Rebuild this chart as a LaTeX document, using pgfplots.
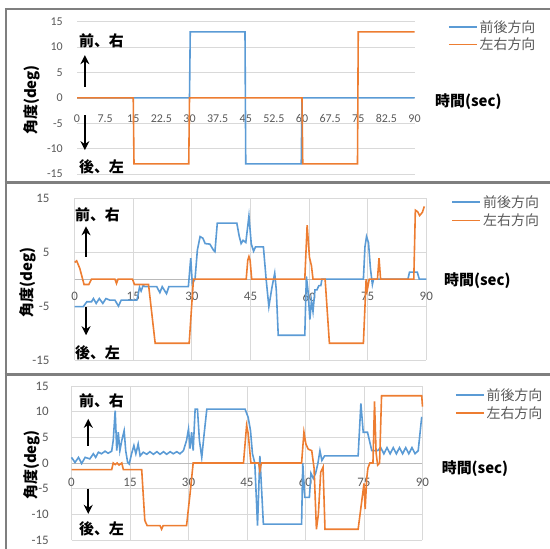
\documentclass[border=0pt]{standalone}
\usepackage{pgfplots}
\pgfplotsset{compat=1.18}
\usepackage{fontspec}
\setmainfont{Carlito}
\newfontfamily\cjk{Noto Sans CJK JP}
\usetikzlibrary{arrows.meta}
\definecolor{cblue}{HTML}{5B9BD5}
\definecolor{corange}{HTML}{ED7D31}
\definecolor{gridc}{HTML}{D9D9D9}
\definecolor{tickc}{HTML}{595959}
\definecolor{framec}{HTML}{7F7F7F}

\pgfplotsset{
  panel/.style={
    scale only axis,
    anchor=south west,
    xmin=0, xmax=90, ymin=-15, ymax=15,
    axis line style={draw=none},
    major tick length=0pt,
    tick style={draw=none},
    major grid style={draw=gridc, line width=0.8bp},
    ymajorgrids,
    extra y ticks={0}, extra y tick labels={},
    extra y tick style={grid=major, major grid style={draw=gray!55, line width=0.9bp}},
    clip=false,
    yticklabel style={anchor=east, inner sep=0pt, xshift=-14bp},
    legend style={draw=none, fill=none, inner sep=0pt, outer sep=0pt,
      font=\cjk\fontsize{14}{14}\selectfont, text=tickc,
      row sep=4bp, column sep=2bp,
      nodes={inner sep=0pt}},
    legend cell align=left,
    legend image code/.code={\draw[##1, line width=1.6bp] (0bp,0bp) -- (28bp,0bp);},
    every axis plot/.append style={line width=1.6bp, mark=none},
  },
}
\tikzset{arr/.style={draw=black, line width=2.2bp, arrows={-Stealth[length=9bp,width=9bp]}}}

\newcommand{\labs}[3]{%
  \node[font=\cjk\bfseries\fontsize{15}{15}\selectfont] at (#1bp,#2bp) {#3};}

\begin{document}
\begin{tikzpicture}
\path[use as bounding box] (0,0) rectangle (550bp,549bp);

% ---------------- Panel 1 ----------------
\begin{axis}[panel, at={(77bp,375bp)}, width=337.5bp, height=152.3bp,
  xtick={0,7.5,15,22.5,30,37.5,45,52.5,60,67.5,75,82.5,90},
  xticklabels={0,7.5,15,22.5,30,37.5,45,52.5,60,67.5,75,82.5,90},
  ytick={-15,-10,-5,0,5,10,15},
  yticklabels={-15,-10,-5,0,5,10,15},
  tick label style={font=\fontsize{12}{12}\selectfont, text=tickc},
  xticklabel style={anchor=center, yshift=55.7bp},
  legend style={at={(axis description cs:1.0993,1.008)}, anchor=north west},
]
\addplot[cblue] coordinates {(0,0)(30,0)(30.2,13)(44.8,13)(45,-13)(59.8,-13)(60,0)(90,0)};
\addplot[corange] coordinates {(0,0)(15,0)(15.2,-13)(29.8,-13)(30,0)(60,0)(60.2,-13)(74.8,-13)(75,13)(90,13)};
\legend{前後方向,左右方向}
\draw[arr] (axis cs:2.1,2.2) -- (axis cs:2.1,8.4);
\draw[arr] (axis cs:2.1,-3.4) -- (axis cs:2.1,-10.3);
\end{axis}

% ---------------- Panel 2 ----------------
\begin{axis}[panel, at={(74.7bp,189bp)}, width=351.6bp, height=161.7bp,
  xtick={0,15,30,45,60,75,90},
  xticklabels={0,15,30,45,60,75,90},
  xmajorgrids,
  ytick={-15,-5,5,15},
  yticklabels={-15,-5,5,15},
  tick label style={font=\fontsize{13}{13}\selectfont, text=tickc},
  xticklabel style={anchor=center, yshift=63.3bp},
  yticklabel style={xshift=-11bp},
  legend style={at={(axis description cs:1.072,1.017)}, anchor=north west, row sep=5bp},
]
\addplot[cblue] coordinates {
(0,-5.1)(2.2,-5.1)(3.1,-4.2)(4.3,-4.2)(4.8,-3.6)(5.5,-4.5)(6.3,-3.6)(7.2,-4.5)(8.0,-3.6)(9.0,-3.9)
(10.3,-3.9)(11.2,-5.0)(11.9,-3.9)(15.9,-3.9)(16.2,-3.0)(16.6,-1.5)(17.0,-2.2)(17.5,-1.2)(18.0,-1.4)
(21.0,-1.4)(21.8,-2.5)(22.4,-1.4)(23.5,-2.7)(24.1,-1.4)(29.1,-1.4)(29.7,3.9)(30.1,-0.8)(30.8,0)
(31.4,5.4)(32.1,7.9)(32.8,7.6)(33.4,6.6)(34.6,6.5)(35.5,5.4)(35.9,5.1)(36.5,10.4)(41.5,10.4)
(42.1,8.0)(42.6,6.6)(43.1,7.2)(43.8,6.8)(44.6,11.7)(45.2,6.5)(45.8,5.2)(46.3,6.0)(48.3,6.0)
(49.0,0)(49.7,-5.1)(50.5,-1.5)(51.2,1.1)(51.6,-2)(52.1,-10.4)(58.9,-10.4)(59.3,0.5)(59.7,-2)
(60.2,-7.5)(60.6,-4)(61.0,-6)(61.5,-2)(62.0,-2)(62.5,-1.2)(63.0,-1.2)(63.3,0)(73.9,0)(74.3,6)
(74.7,7.9)(75.2,6.8)(75.7,2)(76.2,-1)(76.5,0)(85.3,0)(85.7,1.3)(87.7,1.3)(88.2,0)(90,0)};
\addplot[corange] coordinates {
(0,3.1)(0.5,3.4)(1.3,2)(2.4,-1.0)(3.6,-1.0)(4.3,0)(10.3,0)(10.7,-0.8)(11.1,0)(14.8,0)(15.3,-1.0)
(18.9,-1.0)(20.6,-11.9)(29.3,-11.9)(30.4,0)(43.9,0)(44.3,3.5)(44.6,4.2)(44.9,3.5)(45.3,0)(58.9,0)
(59.5,10.0)(60.1,4.0)(60.6,2.5)(61.0,0)(64.1,0)(65.2,-11.9)(73.9,-11.9)(74.6,0)(74.9,-2)(75.4,0)
(77.5,0)(77.9,3.9)(78.3,0)(86.8,0)(87.2,12.8)(87.8,12.5)(88.3,11.8)(89.0,12.4)(89.5,13.5)};
\legend{前後方向,左右方向}
\draw[arr] (axis cs:2.9,4.2) -- (axis cs:2.9,9.8);
\draw[arr] (axis cs:2.9,-5.1) -- (axis cs:2.9,-10.4);
\end{axis}

% ---------------- Panel 3 ----------------
\begin{axis}[panel, at={(71.5bp,9bp)}, width=351bp, height=154bp,
  xtick={0,15,30,45,60,75,90},
  xticklabels={0,15,30,45,60,75,90},
  xmajorgrids,
  ytick={-15,-10,-5,0,5,10,15},
  yticklabels={-15,-10,-5,0,5,10,15},
  tick label style={font=\fontsize{13}{13}\selectfont, text=tickc},
  xticklabel style={anchor=center, yshift=57.7bp},
  yticklabel style={xshift=-8.5bp},
  legend style={at={(axis description cs:1.0926,0.983)}, anchor=north west, row sep=4.5bp},
]
\addplot[cblue] coordinates {
(0,1.1)(0.9,0.1)(1.8,1.1)(2.6,-0.1)(3.5,1.1)(4.7,0.8)(5.6,1.8)(6.2,1.1)(6.9,2.1)(7.7,1.8)(8.6,2.3)
(9.4,1.9)(10.3,2.3)(10.7,4.4)(11.2,10.2)(11.6,2.4)(12.0,6.0)(12.4,2.4)(12.9,4.4)(13.5,6.3)(13.9,2.4)
(14.4,0.1)(14.8,-0.2)(15.4,1.8)(16.0,3.4)(16.5,1.8)(17.1,3.7)(17.6,1.4)(18.4,2.1)(19.3,1.7)(20.1,2.2)
(21.0,1.7)(21.9,2.2)(22.7,1.7)(23.6,2.2)(24.4,1.7)(25.3,2.2)(26.1,1.8)(27.0,2.2)(27.8,1.8)(28.7,2.4)
(29.5,4.4)(30.0,6.6)(30.4,2.8)(30.8,6.0)(31.2,2.4)(31.7,10.5)(32.3,10.5)(32.8,4.4)(33.4,1.1)(34.0,5.6)
(34.7,10.5)(44.5,10.5)(45.3,8.9)(45.9,6.3)(46.4,1.8)(47.0,0)(47.7,-12.2)(48.3,1.4)(49.2,-11.9)
(58.6,-11.9)(59.0,-11.9)(59.3,0)(59.8,-6.7)(61.0,-6.7)(61.4,-2.0)(62.0,-3.0)(62.6,-2.0)(63.2,0)
(63.7,2.4)(64.2,0.5)(64.9,1.4)(73.5,1.4)(74.2,11.6)(74.8,6.0)(75.9,6.0)(77.0,2.4)(78.5,2.4)
(79.3,3.0)(80.1,1.8)(80.9,3.0)(81.7,1.8)(82.5,3.0)(83.3,1.8)(84.1,3.0)(84.9,1.8)(85.7,3.0)(86.5,1.8)
(87.3,3.0)(88.1,1.8)(88.9,2.4)(89.8,9.0)};
\addplot[corange] coordinates {
(0,-1.3)(10.3,-1.3)(10.7,0)(11.2,-0.3)(11.7,0)(12.2,-0.4)(12.9,0)(13.3,-1.3)(18.0,-1.3)(18.8,-11.2)
(19.4,-12.2)(22.7,-12.2)(23.1,-12.9)(23.5,-12.2)(29.5,-12.2)(30.4,-6.0)(31.2,0)(44.1,0)(44.9,7.3)
(45.3,5.8)(46.0,0)(48.0,0)(48.3,-1.5)(48.7,0)(59.0,0)(59.6,6.0)(60.1,3.7)(60.7,2.7)(61.6,2.4)
(62.2,-1.0)(62.8,-12.9)(63.3,-10)(63.9,-1.8)(64.5,-0.8)(65.0,-12.9)(73.5,-12.9)(75.0,-4)(75.3,-9)
(75.7,-3)(76.0,-1)(76.5,0)(77.3,0)(77.7,12.0)(78.1,2)(78.5,-0.4)(79.0,0)(79.5,13.1)(89.8,13.1)(90,11.0)};
\legend{前後方向,左右方向}
\draw[arr] (axis cs:4.3,3.4) -- (axis cs:4.3,8.6);
\draw[arr] (axis cs:4.3,-5.0) -- (axis cs:4.3,-9.9);
\end{axis}

% ---------------- frames ----------------
\draw[framec, line width=2.5bp] (6bp,0bp) -- (6bp,540bp);
\draw[framec, line width=2.5bp] (4.75bp,540bp) -- (550bp,540bp);
\draw[framec, line width=3bp] (4.5bp,366.5bp) -- (550bp,366.5bp);
\draw[framec, line width=3bp] (4.5bp,174.5bp) -- (550bp,174.5bp);

% ---------------- annotations ----------------
\labs{101.5}{507.8}{前、右}
\labs{101.5}{382.3}{後、左}
\node[font=\cjk\bfseries\fontsize{15}{15}\selectfont, anchor=west] at (431.7bp,447.3bp) {時間(sec)};
\node[font=\cjk\bfseries\fontsize{15}{15}\selectfont, rotate=90] at (31.7bp,449bp) {角度(deg)};

\labs{97.5}{334}{前、右}
\labs{97.5}{195.7}{後、左}
\node[font=\cjk\bfseries\fontsize{15}{15}\selectfont, anchor=west] at (440.7bp,268.3bp) {時間(sec)};
\node[font=\cjk\bfseries\fontsize{15}{15}\selectfont, rotate=90] at (28bp,266.5bp) {角度(deg)};

\labs{101.5}{148.3}{前、右}
\labs{101.5}{20}{後、左}
\node[font=\cjk\bfseries\fontsize{15}{15}\selectfont, anchor=west] at (438.3bp,80.7bp) {時間(sec)};
\node[font=\cjk\bfseries\fontsize{15}{15}\selectfont, rotate=90] at (31.7bp,84bp) {角度(deg)};
\end{tikzpicture}
\end{document}
